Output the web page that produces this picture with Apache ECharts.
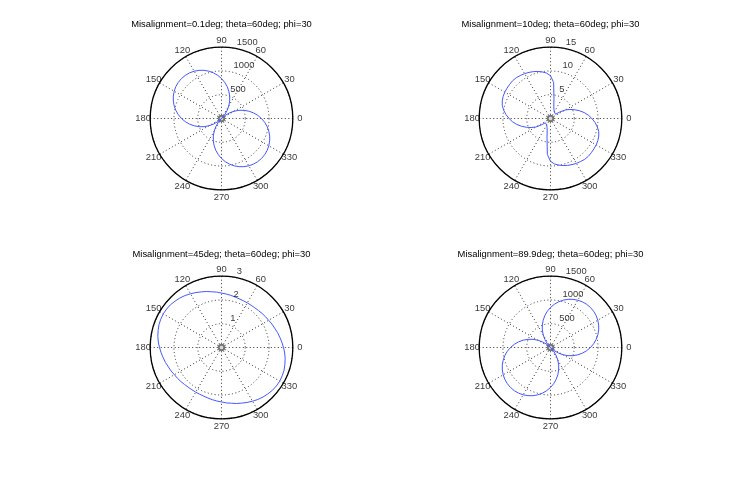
<!DOCTYPE html>
<html>
<head>
<meta charset="utf-8">
<script src="https://cdn.jsdelivr.net/npm/echarts@6/dist/echarts.min.js"></script>
<style>
  html, body { margin: 0; padding: 0; background: #ffffff; }
  #chart { width: 746px; height: 484px; }
</style>
</head>
<body>
<div id="chart"></div>
<script>
// ---------------- data ----------------
var misalignments = ['0.1', '10', '45', '89.9'];
var thetaText = '60';
var phiText = '30';

// sample angles (degrees)
var angles = [0,5,10,15,20,25,30,35,40,45,50,55,60,65,70,75,80,85,90,95,100,105,110,115,120,125,130,135,140,145,150,155,160,165,170,175,
              180,185,190,195,200,205,210,215,220,225,230,235,240,245,250,255,260,265,270,275,280,285,290,295,300,305,310,315,320,325,330,335,340,345,350,355,360];

// radius values, one per sample angle
var rhoMis01 = [841,765,683,595,503,407,308,207,104,0,104,207,308,407,503,595,683,765,841,912,975,1031,1079,1118,1149,1172,1185,1190,1185,1172,1149,1118,1079,1031,975,912,
                841,765,683,595,503,407,308,207,104,0,104,207,308,407,503,595,683,765,841,912,975,1031,1079,1118,1149,1172,1185,1190,1185,1172,1149,1118,1079,1031,975,912,841];
var rhoMis10 = [8.7,8.0,7.2,6.3,5.4,4.5,3.6,2.4,1.4,1.15,1.2,1.4,1.6,1.8,2.1,2.7,4.2,7.6,9.0,9.6,9.95,10.25,10.5,10.7,10.9,11.05,11.2,11.25,11.2,11.15,11.1,11.0,10.8,10.5,10.0,9.4,
                8.7,8.0,7.2,6.3,5.4,4.5,3.6,2.4,1.4,1.15,1.2,1.4,1.6,1.8,2.1,2.7,4.2,7.6,9.0,9.6,9.95,10.25,10.5,10.7,10.9,11.05,11.2,11.25,11.2,11.15,11.1,11.0,10.8,10.5,10.0,9.4,8.7];
var rhoMis45 = [2.61,2.55,2.49,2.44,2.38,2.34,2.29,2.26,2.23,2.20,2.18,2.17,2.17,2.17,2.18,2.20,2.23,2.26,2.29,2.34,2.38,2.44,2.49,2.55,2.61,2.67,2.72,2.76,2.80,2.82,2.83,2.82,2.80,2.76,2.72,2.67,
                2.61,2.55,2.49,2.44,2.38,2.34,2.29,2.26,2.23,2.20,2.18,2.17,2.17,2.17,2.18,2.20,2.23,2.26,2.29,2.34,2.38,2.44,2.49,2.55,2.61,2.67,2.72,2.76,2.80,2.82,2.83,2.82,2.80,2.76,2.72,2.67,2.61];
var rhoMis899 = [841,912,975,1031,1079,1118,1149,1172,1185,1190,1185,1172,1149,1118,1079,1031,975,912,841,765,683,595,503,407,308,207,104,0,104,207,308,407,503,595,683,765,
                 841,912,975,1031,1079,1118,1149,1172,1185,1190,1185,1172,1149,1118,1079,1031,975,912,841,765,683,595,503,407,308,207,104,0,104,207,308,407,503,595,683,765,841];

// axis ticks
var angleTicks = [0,30,60,90,120,150,180,210,240,270,300,330];
var radiusMax = [1500, 15, 3, 1500];
var radiusStep = [500, 5, 1, 500];
var radiusTicks = [[500,1000,1500],[5,10,15],[1,2,3],[500,1000,1500]];
var rhoSets = [rhoMis01, rhoMis10, rhoMis45, rhoMis899];

// ---------------- layout / style ----------------
var centers = [[221.5,118.5],[550.5,118.5],[221.5,347.5],[550.5,347.5]];
var R = 71.3;
var titleTops = [19.5, 19.5, 249.5, 249.5];
var FONT = 'Liberation Sans, Arial, Helvetica, sans-serif';
var FS = 9.4;
var curveColor = '#4458ff';
var gridColor = '#333333';

var chart = echarts.init(document.getElementById('chart'), null, {renderer: 'canvas'});

var polar = [], angleAxis = [], radiusAxis = [], series = [], titles = [];
for (var i = 0; i < 4; i++) {
  polar.push({ center: centers[i], radius: R });
  angleAxis.push({
    polarIndex: i, type: 'value', min: 0, max: 360, interval: 30,
    startAngle: 0, clockwise: false,
    axisLine: { show: true, lineStyle: { color: '#000000', width: 1.3 } },
    axisTick: { show: false },
    axisLabel: { show: false },
    splitLine: { show: true, lineStyle: { color: gridColor, width: 1, type: [1, 2.5] } }
  });
  radiusAxis.push({
    polarIndex: i, type: 'value', min: 0, max: radiusMax[i], interval: radiusStep[i],
    axisLine: { show: false }, axisTick: { show: false }, axisLabel: { show: false },
    splitLine: { show: true, lineStyle: { color: gridColor, width: 1, type: [1, 2.5] } }
  });
  titles.push({
    text: 'Misalignment=' + misalignments[i] + 'deg; theta=' + thetaText + 'deg; phi=' + phiText,
    left: centers[i][0], top: titleTops[i], textAlign: 'center', padding: 0,
    textStyle: { fontFamily: FONT, fontSize: FS, fontWeight: 'normal', color: '#000' }
  });

  var rho = rhoSets[i];
  series.push({
    type: 'line', coordinateSystem: 'polar', polarIndex: i,
    data: angles.map(function (a, k) { return [rho[k], a]; }),
    showSymbol: false, symbol: 'none', smooth: false,
    lineStyle: { color: curveColor, width: 1 }, z: 3
  });
  series.push({
    type: 'scatter', coordinateSystem: 'polar', polarIndex: i,
    data: [[0, 0]], symbol: 'emptyCircle', symbolSize: 5.5,
    itemStyle: { color: '#555555', borderWidth: 1 }, z: 2
  });
  // angle tick labels at 1.1 * rmax, centred (MATLAB polar style)
  series.push({
    type: 'scatter', coordinateSystem: 'polar', polarIndex: i, clip: false,
    symbolSize: 0,
    data: angleTicks.map(function (a) { return { name: String(a), value: [radiusMax[i] * 1.1, a] }; }),
    label: { show: true, position: 'inside', formatter: '{b}', color: '#000',
             fontFamily: FONT, fontSize: FS },
    z: 4
  });
  // radius tick labels along the 82 degree line
  (function (idx) {
    series.push({
      type: 'scatter', coordinateSystem: 'polar', polarIndex: idx, clip: false,
      symbolSize: 0,
      data: radiusTicks[idx].map(function (v) { return { name: String(v), value: [v + radiusStep[idx] / 20, 82] }; }),
      label: { show: true, position: [0, 0], align: 'left', verticalAlign: 'bottom',
               formatter: function (p) { return '  ' + p.name; }, color: '#000',
               fontFamily: FONT, fontSize: FS },
      z: 4
    });
  })(i);
}

chart.setOption({
  backgroundColor: '#ffffff',
  animation: false,
  title: titles,
  polar: polar,
  angleAxis: angleAxis,
  radiusAxis: radiusAxis,
  series: series
});
</script>
</body>
</html>
